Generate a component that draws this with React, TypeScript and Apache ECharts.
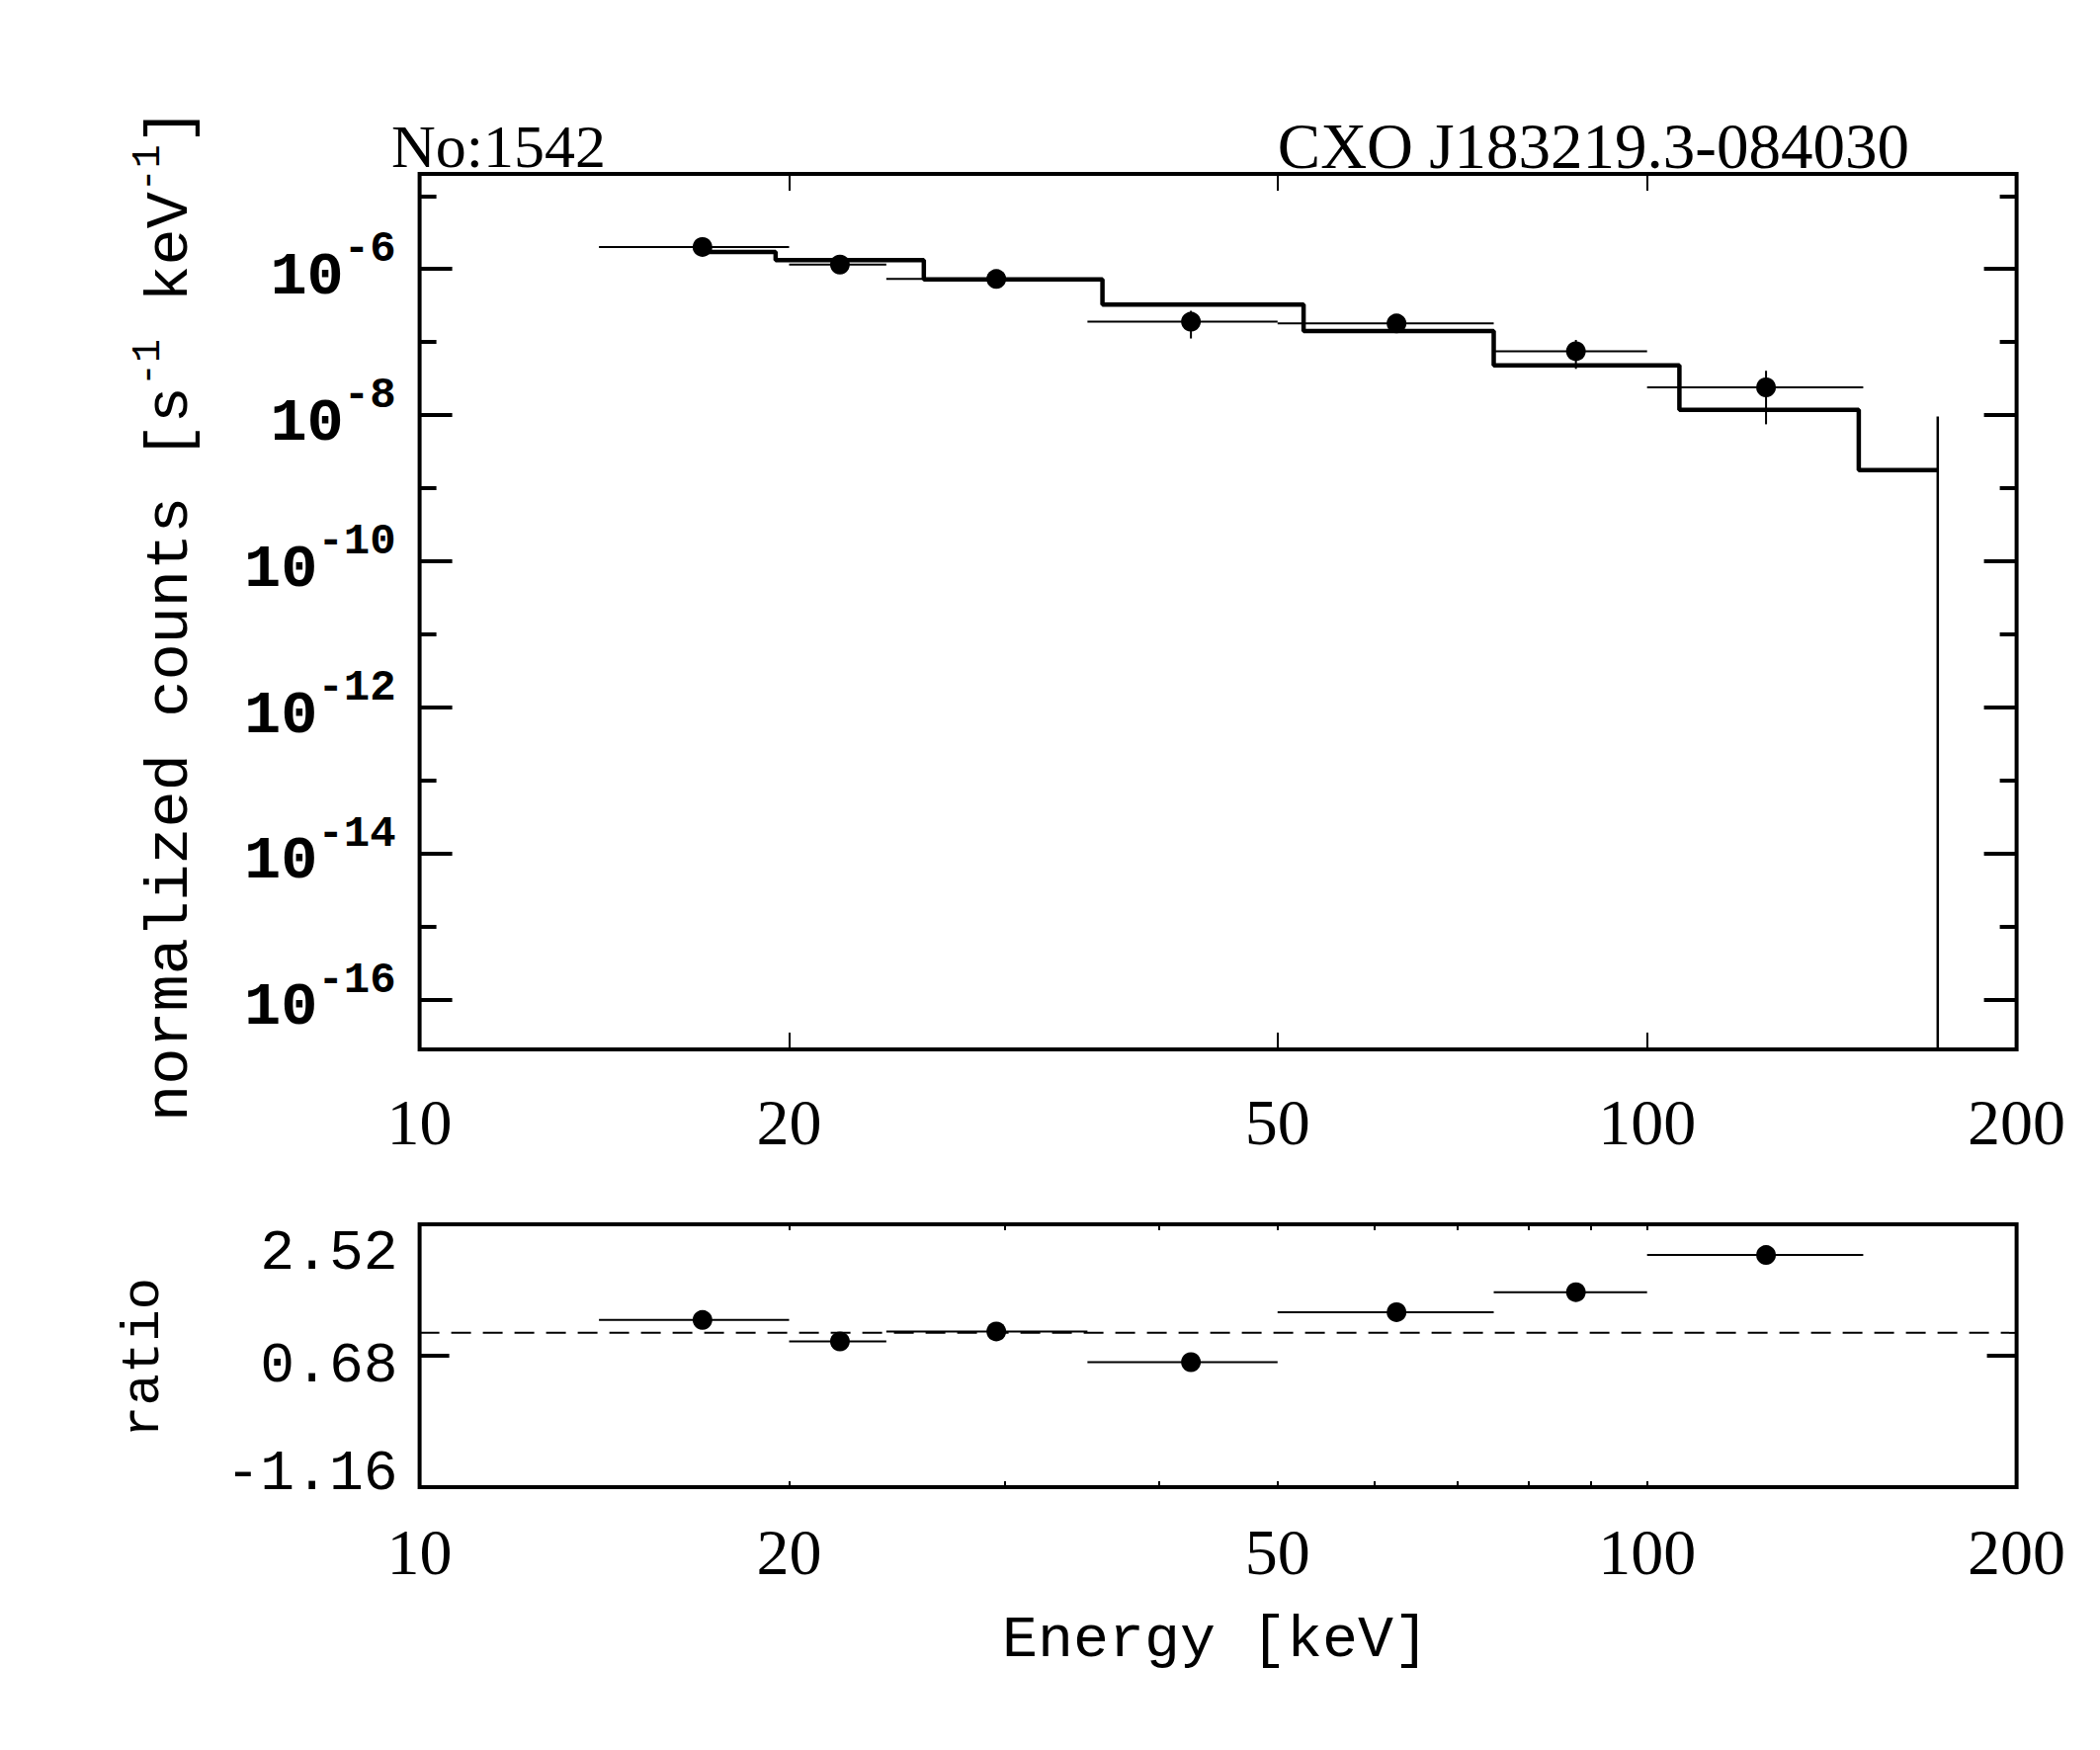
import React, { useEffect, useRef } from 'react';
import * as echarts from 'echarts';

// ---- data ----
const energyCenter = [17, 22, 29.5, 42.5, 62.5, 87.5, 125];
const binLow = [14, 20, 24, 35, 50, 75, 100];
const binHigh = [20, 24, 35, 50, 75, 100, 150];
const counts = [2.0e-6, 1.15e-6, 7.3e-7, 1.9e-7, 1.8e-7, 7.5e-8, 2.4e-8];
const countErr = [2.5e-7, 1.5e-7, 9e-8, 7.8e-8, 3.5e-8, 3.2e-8, 1.65e-8];
const ratio = [1.18, 0.88, 1.02, 0.59, 1.29, 1.57, 2.09];
const modelEnergy = [17, 22, 29.5, 42.5, 62.5, 87.5, 125, 172.5];
const modelCounts = [1.71e-6, 1.32e-6, 7.2e-7, 3.26e-7, 1.42e-7, 4.8e-8, 1.18e-8, 1.77e-9];
const limitEnergy = [172.5];
const limitCounts = [9.6e-9];
const ratioReference = 1;

const xTickLabels = [10, 20, 50, 100, 200];
const xMajorTicks = [20, 50, 100];
const xMinorTicks = [20, 30, 40, 50, 60, 70, 80, 90, 100];
const yLabelDecades = [1e-16, 1e-14, 1e-12, 1e-10, 1e-8, 1e-6];
const yOddDecades = [1e-15, 1e-13, 1e-11, 1e-9, 1e-7, 1e-5];
const ratioTickLabels = [-1.16, 0.68, 2.52];
const ratioInnerTicks = [0.68];

const X_MIN = 10;
const X_MAX = 200;
const Y_MIN = 2.1e-17;
const Y_MAX = 2.0e-5;
const R_MIN = -1.16;
const R_MAX = 2.52;

const MONO = '"Liberation Mono", "DejaVu Sans Mono", monospace';
const SERIF = '"Liberation Serif", "DejaVu Serif", serif';

function buildOption() {
  const modelStep: number[][] = [];
  modelEnergy.forEach((e, i) => {
    const left = i === 0 ? e : (modelEnergy[i - 1] + e) / 2;
    const right = i === modelEnergy.length - 1 ? e : (e + modelEnergy[i + 1]) / 2;
    modelStep.push([left, modelCounts[i]], [right, modelCounts[i]]);
  });

  const topBars = energyCenter.map((e, i) => [
    e, counts[i], binLow[i], binHigh[i], counts[i] - countErr[i], counts[i] + countErr[i],
  ]);
  const ratioBars = energyCenter.map((e, i) => [e, ratio[i], binLow[i], binHigh[i]]);

  const xAxisCfg = (gridIndex: number, position: string, ticks: number[], len: number, labels: boolean, margin: number) => ({
    type: 'log',
    logBase: 10,
    gridIndex,
    position,
    min: X_MIN,
    max: X_MAX,
    axisLine: { show: false, onZero: false },
    splitLine: { show: false },
    minorTick: { show: false },
    axisTick: { show: true, inside: true, length: len, lineStyle: { color: '#000', width: 2 }, customValues: ticks },
    axisLabel: labels
      ? { show: true, customValues: xTickLabels, margin, fontFamily: SERIF, fontSize: 66, color: '#000' }
      : { show: false },
  });

  const yLogCfg = (position: string, ticks: number[], len: number, labels: boolean) => ({
    type: 'log',
    logBase: 10,
    gridIndex: 0,
    position,
    min: Y_MIN,
    max: Y_MAX,
    axisLine: { show: false, onZero: false },
    splitLine: { show: false },
    minorTick: { show: false },
    axisTick: { show: true, inside: true, length: len, lineStyle: { color: '#000', width: 4 }, customValues: ticks },
    axisLabel: labels
      ? {
          show: true,
          customValues: yLabelDecades,
          margin: 24,
          color: '#000',
          fontFamily: MONO,
          fontSize: 62,
          formatter: (v: number) => `{a|10}{b|${Math.round(Math.log10(v))}}`,
          rich: {
            a: { fontFamily: MONO, fontWeight: 'bold', fontSize: 62, color: '#000', padding: [16, 0, 0, 0] },
            b: { fontFamily: MONO, fontWeight: 'bold', fontSize: 44, color: '#000', padding: [0, 0, 40, 0] },
          },
        }
      : { show: false },
  });

  const yRatioCfg = (position: string, labels: boolean) => ({
    type: 'value',
    gridIndex: 1,
    position,
    min: R_MIN,
    max: R_MAX,
    axisLine: { show: false, onZero: false },
    splitLine: { show: false },
    axisTick: { show: true, inside: true, length: 30, lineStyle: { color: '#000', width: 4 }, customValues: ratioInnerTicks },
    axisLabel: labels
      ? {
          show: true,
          customValues: ratioTickLabels,
          margin: 22,
          color: '#000',
          fontFamily: MONO,
          fontSize: 58,
          formatter: (v: number) => {
            const s = v.toFixed(2);
            if (v > 2) return `{t|${s}}`;
            if (v < 0) return `{d|${s}}`;
            return `{m|${s}}`;
          },
          rich: {
            t: { fontFamily: MONO, fontSize: 58, color: '#000', padding: [58, 0, 0, 0] },
            m: { fontFamily: MONO, fontSize: 58, color: '#000', padding: [20, 0, 0, 0] },
            d: { fontFamily: MONO, fontSize: 58, color: '#000', padding: [0, 0, 28, 0] },
          },
        }
      : { show: false },
  });

  const barRender = (withY: boolean) => (params: any, api: any) => {
    const y = api.value(1);
    const l = api.coord([api.value(2), y]);
    const r = api.coord([api.value(3), y]);
    const children: any[] = [
      { type: 'line', shape: { x1: l[0], y1: l[1], x2: r[0], y2: r[1] }, style: { stroke: '#000', lineWidth: 2 } },
    ];
    if (withY) {
      const lo = api.coord([api.value(0), api.value(4)]);
      const hi = api.coord([api.value(0), api.value(5)]);
      children.push({ type: 'line', shape: { x1: lo[0], y1: lo[1], x2: hi[0], y2: hi[1] }, style: { stroke: '#000', lineWidth: 2 } });
    }
    return { type: 'group', children };
  };

  return {
    animation: false,
    backgroundColor: '#fff',
    grid: [
      { left: 424.6, top: 176, width: 1616, height: 886, show: true, borderColor: '#000', borderWidth: 4, backgroundColor: 'transparent' },
      { left: 424.6, top: 1239, width: 1616, height: 266, show: true, borderColor: '#000', borderWidth: 4, backgroundColor: 'transparent' },
    ],
    xAxis: [
      xAxisCfg(0, 'bottom', xMajorTicks, 17, true, 40),
      xAxisCfg(0, 'top', xMajorTicks, 17, false, 0),
      xAxisCfg(1, 'bottom', xMinorTicks, 6, true, 32),
      xAxisCfg(1, 'top', xMinorTicks, 6, false, 0),
    ],
    yAxis: [
      yLogCfg('left', yLabelDecades, 33, true),
      yLogCfg('left', yOddDecades, 17, false),
      yLogCfg('right', yLabelDecades, 33, false),
      yLogCfg('right', yOddDecades, 17, false),
      yRatioCfg('left', true),
      yRatioCfg('right', false),
    ],
    series: [
      {
        type: 'custom',
        xAxisIndex: 0,
        yAxisIndex: 0,
        data: topBars,
        encode: { x: 0, y: 1 },
        renderItem: barRender(true),
        silent: true,
      },
      {
        type: 'line',
        xAxisIndex: 0,
        yAxisIndex: 0,
        data: modelStep,
        symbol: 'none',
        lineStyle: { color: '#000', width: 4.5 },
        silent: true,
      },
      {
        type: 'custom',
        xAxisIndex: 0,
        yAxisIndex: 0,
        data: limitEnergy.map((e, i) => [e, limitCounts[i]]),
        encode: { x: 0, y: 1 },
        renderItem: (params: any, api: any) => {
          const top = api.coord([api.value(0), api.value(1)]);
          const bottom = params.coordSys.y + params.coordSys.height;
          return { type: 'line', shape: { x1: top[0], y1: top[1], x2: top[0], y2: bottom }, style: { stroke: '#000', lineWidth: 2.5 } };
        },
        silent: true,
      },
      {
        type: 'scatter',
        xAxisIndex: 0,
        yAxisIndex: 0,
        data: energyCenter.map((e, i) => [e, counts[i]]),
        symbol: 'circle',
        symbolSize: 20,
        itemStyle: { color: '#000', opacity: 1 },
        silent: true,
      },
      {
        type: 'line',
        xAxisIndex: 2,
        yAxisIndex: 4,
        data: [[X_MIN, ratioReference], [X_MAX, ratioReference]],
        symbol: 'none',
        lineStyle: { color: '#000', width: 2, type: [20, 12] },
        silent: true,
      },
      {
        type: 'custom',
        xAxisIndex: 2,
        yAxisIndex: 4,
        data: ratioBars,
        encode: { x: 0, y: 1 },
        renderItem: barRender(false),
        silent: true,
      },
      {
        type: 'scatter',
        xAxisIndex: 2,
        yAxisIndex: 4,
        data: energyCenter.map((e, i) => [e, ratio[i]]),
        symbol: 'circle',
        symbolSize: 20,
        itemStyle: { color: '#000', opacity: 1 },
        silent: true,
      },
    ],
    graphic: {
      elements: [
        {
          type: 'text',
          x: 396,
          y: 148,
          style: { text: 'No:1542', fill: '#000', fontFamily: SERIF, fontSize: 62, align: 'left', verticalAlign: 'middle' },
        },
        {
          type: 'text',
          x: 1932,
          y: 148,
          style: { text: 'CXO J183219.3-084030', fill: '#000', fontFamily: SERIF, fontSize: 65, align: 'right', verticalAlign: 'middle' },
        },
        {
          type: 'text',
          x: 165,
          y: 622,
          rotation: Math.PI / 2,
          style: {
            text: '{a|normalized counts [s}{b|-1}{a| keV}{b|-1}{a|]}',
            align: 'center',
            verticalAlign: 'middle',
            fill: '#000',
            rich: {
              a: { fontFamily: MONO, fontSize: 62, fill: '#000', padding: [14, 0, 0, 0] },
              b: { fontFamily: MONO, fontSize: 40, fill: '#000', padding: [0, 0, 30, 0] },
            },
          },
        },
        {
          type: 'text',
          x: 145,
          y: 1374,
          rotation: Math.PI / 2,
          style: { text: 'ratio', fill: '#000', fontFamily: MONO, fontSize: 54, align: 'center', verticalAlign: 'middle' },
        },
        {
          type: 'text',
          x: 1230,
          y: 1660,
          style: { text: 'Energy [keV]', fill: '#000', fontFamily: MONO, fontSize: 60, align: 'center', verticalAlign: 'middle' },
        },
      ],
    },
  };
}

export default function App() {
  const ref = useRef<HTMLDivElement>(null);
  useEffect(() => {
    if (!ref.current) return;
    const chart = echarts.init(ref.current, null, { renderer: 'svg' });
    chart.setOption(buildOption() as any);
    return () => chart.dispose();
  }, []);
  return (
    <div
      ref={ref}
      style={{ position: 'absolute', left: 0, top: 0, width: 2125, height: 1771, background: '#fff' }}
    />
  );
}
